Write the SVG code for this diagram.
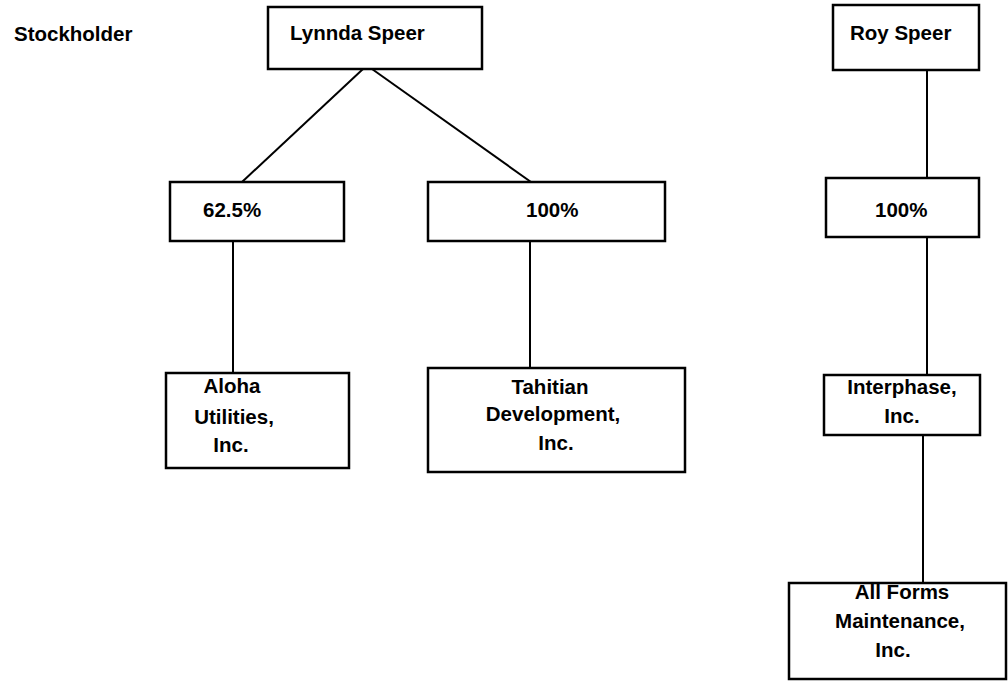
<svg xmlns="http://www.w3.org/2000/svg" width="1008" height="687" viewBox="0 0 1008 687">
<style>
.box{fill:#fff;stroke:#000;stroke-width:2.5}
.t{font-family:"Liberation Sans",Arial,sans-serif;font-size:20.5px;font-weight:bold;fill:#000}
.c{text-anchor:middle}
.ln{stroke:#000;stroke-width:2;fill:none}
</style>
<rect width="1008" height="687" fill="#fff"/>
<text class="t" x="14" y="41">Stockholder</text>
<g id="connectors">
<line class="ln" x1="363" y1="69" x2="242" y2="182"/>
<line class="ln" x1="372" y1="69" x2="531" y2="182"/>
<line class="ln" x1="233" y1="241" x2="233" y2="373"/>
<line class="ln" x1="530" y1="241" x2="530" y2="368"/>
<line class="ln" x1="927" y1="70" x2="927" y2="178"/>
<line class="ln" x1="927" y1="237" x2="927" y2="375"/>
<line class="ln" x1="923" y1="435" x2="923" y2="583"/>
</g>
<g id="lynnda">
<rect class="box" x="268" y="7" width="214" height="62"/>
<text class="t" x="290" y="40">Lynnda Speer</text>
</g>
<g id="roy">
<rect class="box" x="833" y="5" width="146" height="65"/>
<text class="t" x="850" y="40">Roy Speer</text>
</g>
<g id="pct625">
<rect class="box" x="170" y="182" width="174" height="59"/>
<text class="t" x="203" y="217">62.5%</text>
</g>
<g id="pct100a">
<rect class="box" x="428" y="182" width="237" height="59"/>
<text class="t" x="526" y="217">100%</text>
</g>
<g id="pct100b">
<rect class="box" x="826" y="178" width="153" height="59"/>
<text class="t" x="875" y="217">100%</text>
</g>
<g id="aloha">
<rect class="box" x="166" y="373" width="183" height="95"/>
<text class="t c" x="232" y="393">Aloha</text>
<text class="t c" x="234" y="424">Utilities,</text>
<text class="t c" x="231" y="452">Inc.</text>
</g>
<g id="tahitian">
<rect class="box" x="428" y="368" width="257" height="104"/>
<text class="t c" x="550" y="394">Tahitian</text>
<text class="t c" x="553" y="421">Development,</text>
<text class="t c" x="556" y="450">Inc.</text>
</g>
<g id="interphase">
<rect class="box" x="824" y="375" width="156" height="60"/>
<text class="t c" x="902" y="394">Interphase,</text>
<text class="t c" x="902" y="423">Inc.</text>
</g>
<g id="allforms">
<rect class="box" x="789" y="583" width="217" height="96"/>
<text class="t c" x="902" y="599">All Forms</text>
<text class="t c" x="900" y="628">Maintenance,</text>
<text class="t c" x="893" y="657">Inc.</text>
</g>
</svg>
